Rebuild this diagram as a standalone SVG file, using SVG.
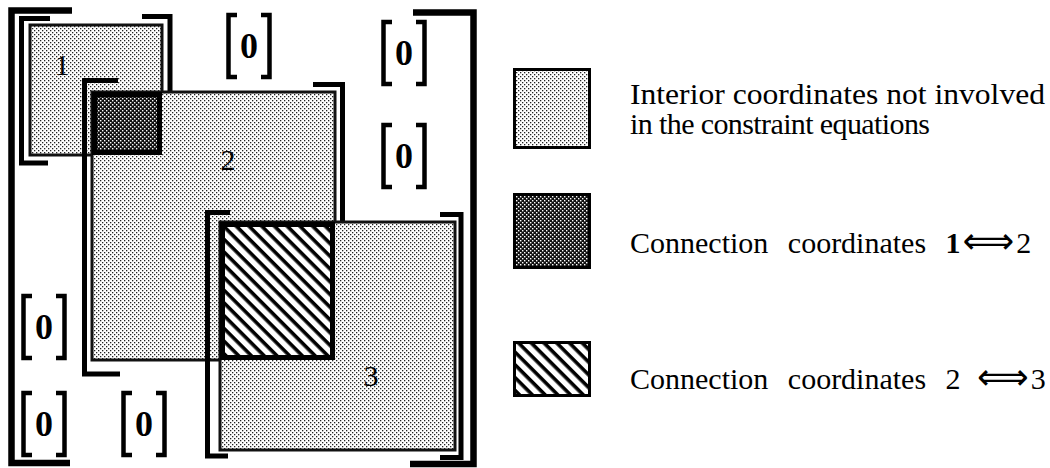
<svg xmlns="http://www.w3.org/2000/svg" width="1050" height="468" viewBox="0 0 1050 468">
  <defs>
    <pattern id="light" width="4" height="4" patternUnits="userSpaceOnUse">
      <rect width="4" height="4" fill="#ffffff"/>
      <rect x="0" y="0" width="1.3" height="1.3" fill="#222"/>
      <rect x="2" y="2" width="1.3" height="1.3" fill="#222"/>
    </pattern>
    <pattern id="dark" width="4" height="4" patternUnits="userSpaceOnUse">
      <rect width="4" height="4" fill="#111"/>
      <rect x="0" y="0" width="1.4" height="1.4" fill="#fff"/>
      <rect x="2" y="2" width="1.4" height="1.4" fill="#fff"/>
    </pattern>
    <pattern id="hatch" width="9" height="9" patternUnits="userSpaceOnUse" patternTransform="rotate(45)">
      <rect width="9" height="9" fill="#ffffff"/>
      <rect x="0" y="0" width="9" height="3.6" fill="#000"/>
    </pattern>
    <g id="zero">
      <path class="zb" d="M 11 2 H 2.5 V 64 H 11"/>
      <path class="zb" d="M 35 2 H 43.5 V 64 H 35"/>
      <text class="zt" x="23" y="45">0</text>
    </g>
  </defs>
  <style>
    .br { fill: none; stroke: #000; stroke-width: 5; stroke-linejoin: miter; stroke-linecap: butt; }
    .obr { fill: none; stroke: #000; stroke-width: 6.5; stroke-linejoin: miter; stroke-linecap: butt; }
    .zb { fill: none; stroke: #000; stroke-width: 4.5; stroke-linecap: butt; stroke-linejoin: miter; }
    .zt { font-family: "Liberation Serif", "Times New Roman", serif; font-weight: bold; font-size: 36px; text-anchor: middle; fill: #000; }
    .blk { fill: url(#light); stroke: #111; stroke-width: 3; }
    .ov { stroke: #000; stroke-width: 5; }
    .lbl { font-family: "Liberation Serif", "Times New Roman", serif; font-size: 30px; text-anchor: middle; fill: #000; }
    .leg { font-family: "Liberation Serif", "Times New Roman", serif; font-size: 30px; fill: #000; }
    .arr { font-family: "DejaVu Sans", sans-serif; font-size: 36px; }
    .sw { stroke: #000; stroke-width: 3; }
  </style>

  <rect width="1050" height="468" fill="#ffffff"/>

  <g id="outer-bracket">
    <path class="obr" d="M 72 10.5 H 11.5 V 463 H 70"/>
    <path class="obr" d="M 413 12.5 H 473.5 V 464 H 410"/>
  </g>

  <g id="block1">
    <rect class="blk" x="30" y="25" width="132" height="130"/>
    <path class="br" d="M 50 18.5 H 21.5 V 163 H 48"/>
    <path class="br" d="M 142 16.5 H 170 V 160.5 H 142"/>
    <text class="lbl" x="62" y="75">1</text>
  </g>

  <g id="block2">
    <rect class="blk" x="92" y="92" width="243" height="268"/>
    <path class="br" d="M 118 80.5 H 84.5 V 374 H 120"/>
    <path class="br" d="M 313 84.5 H 342.5 V 372 H 313"/>
    <text class="lbl" x="228" y="170">2</text>
  </g>

  <g id="block3">
    <rect class="blk" x="220" y="222" width="235" height="228"/>
    <path class="br" d="M 230 212.5 H 207.5 V 456 H 228"/>
    <path class="br" d="M 440 214.5 H 461 V 457.5 H 440"/>
    <text class="lbl" x="371" y="386">3</text>
  </g>

  <g id="overlap12">
    <rect class="ov" x="94.5" y="94.5" width="65" height="58" fill="url(#dark)"/>
  </g>
  <g id="overlap23">
    <rect class="ov" x="222.5" y="224.5" width="110" height="133" fill="url(#hatch)"/>
  </g>

  <g id="zeros">
    <use href="#zero" x="226" y="13"/>
    <use href="#zero" x="381" y="20"/>
    <use href="#zero" x="381" y="123"/>
    <use href="#zero" x="21" y="294"/>
    <use href="#zero" x="21" y="391"/>
    <use href="#zero" x="121" y="391"/>
  </g>

  <g id="connectors"></g>

  <g id="legend-interior">
    <rect class="sw" x="514.5" y="69.5" width="75" height="78" fill="url(#light)"/>
    <text class="leg" x="630" y="104" font-size="29" textLength="415" lengthAdjust="spacingAndGlyphs">Interior coordinates not involved</text>
    <text class="leg" x="630" y="134" font-size="26" textLength="300">in the constraint equations</text>
  </g>
  <g id="legend-conn12">
    <rect class="sw" x="514.5" y="194.5" width="75" height="73" fill="url(#dark)"/>
    <text class="leg" x="630" y="253" word-spacing="12">Connection coordinates <tspan font-weight="bold">1</tspan><tspan class="arr" dx="2">⟺</tspan><tspan dx="2">2</tspan></text>
  </g>
  <g id="legend-conn23">
    <rect class="sw" x="514.5" y="342.5" width="75" height="53" fill="url(#hatch)"/>
    <text class="leg" x="630" y="389" word-spacing="12">Connection coordinates 2 <tspan class="arr" dx="-3">⟺</tspan><tspan dx="2">3</tspan></text>
  </g>
</svg>
